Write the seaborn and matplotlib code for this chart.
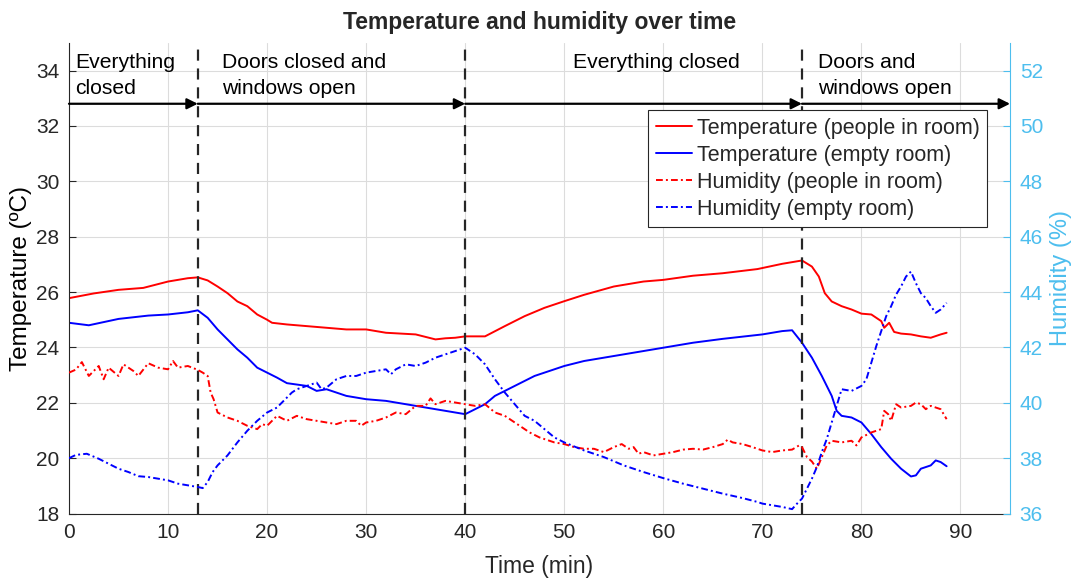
import matplotlib
matplotlib.use('Agg')
import matplotlib.pyplot as plt
import seaborn as sns
import pandas as pd

# 数据
t_temp_people = [0, 2.5, 5, 7.5, 10, 12, 13, 14, 15, 16, 17, 18, 19, 20, 20.5, 22, 25, 28, 30, 32,
                 35, 37, 38, 39, 40, 42, 44, 46, 48, 50, 52, 55, 58, 60, 63, 66, 69.5, 72, 74, 75,
                 75.7, 76.3, 77, 78, 79, 80, 81, 82, 82.3, 82.8, 83.3, 84, 85, 86, 87, 88, 88.6]
temp_people = [25.78, 25.95, 26.08, 26.15, 26.38, 26.50, 26.53, 26.42, 26.20, 25.96, 25.66, 25.49,
               25.19, 25.00, 24.89, 24.83, 24.74, 24.65, 24.65, 24.53, 24.47, 24.29, 24.33, 24.35,
               24.40, 24.40, 24.77, 25.13, 25.43, 25.67, 25.90, 26.20, 26.38, 26.44, 26.59, 26.68,
               26.83, 27.02, 27.14, 26.92, 26.56, 25.96, 25.66, 25.49, 25.37, 25.22, 25.19, 24.95,
               24.71, 24.89, 24.56, 24.50, 24.47, 24.40, 24.35, 24.47, 24.53]

t_temp_empty = [0, 2, 5, 8, 10, 12, 13, 14, 15, 16, 17, 18, 19, 20, 21, 22, 24, 25, 26, 27, 28, 30,
                32, 34, 36, 38, 40, 41, 42, 43, 44, 46, 47, 48, 50, 52, 55, 58, 60, 63, 66, 70, 72,
                73, 74, 75, 76, 77, 77.5, 78, 79, 80, 81, 82, 83, 84, 85, 85.5, 86, 87, 87.5, 88, 88.6]
temp_empty = [24.89, 24.80, 25.03, 25.15, 25.19, 25.27, 25.34, 25.07, 24.65, 24.29, 23.93, 23.63,
              23.27, 23.09, 22.91, 22.71, 22.61, 22.43, 22.49, 22.37, 22.25, 22.13, 22.07, 21.95,
              21.83, 21.71, 21.59, 21.77, 21.95, 22.25, 22.43, 22.79, 22.97, 23.09, 23.33, 23.51,
              23.69, 23.87, 23.99, 24.17, 24.31, 24.47, 24.59, 24.62, 24.17, 23.63, 22.97, 22.25,
              21.71, 21.53, 21.47, 21.29, 20.87, 20.40, 19.98, 19.62, 19.34, 19.38, 19.62, 19.74,
              19.92, 19.86, 19.71]

t_hum_people = [0, 0.7, 1.3, 2, 3, 3.5, 4, 5, 5.5, 6.5, 7, 8, 9, 10, 10.5, 11, 12, 13, 13.5, 14,
                14.3, 14.6, 15, 16, 17, 18, 19, 19.5, 20, 21, 22, 23, 24, 25, 26, 27, 28, 29, 29.5,
                30, 31, 32, 33, 34, 35, 36, 36.5, 37, 38, 39, 40, 41, 42, 43, 44, 45, 46, 46.5,
                47.5, 48, 49, 50, 51, 52, 53, 54, 55, 55.8, 56.5, 57, 57.5, 58, 59, 60, 61, 62,
                63, 64, 65, 66, 66.5, 67, 68, 69, 70, 71, 72, 73, 73.7, 74, 74.5, 75, 75.5, 76,
                76.5, 77, 78, 79, 79.5, 80, 81, 82, 82.3, 82.7, 83, 83.5, 84, 85, 85.5, 86, 86.5,
                87, 88, 88.6]
hum_people = [41.09, 41.20, 41.47, 40.97, 41.33, 40.85, 41.27, 40.97, 41.39, 41.15, 40.97, 41.43,
              41.27, 41.21, 41.51, 41.27, 41.33, 41.19, 41.09, 40.97, 40.37, 40.13, 39.65, 39.47,
              39.35, 39.17, 39.05, 39.23, 39.17, 39.53, 39.35, 39.53, 39.41, 39.35, 39.29, 39.23,
              39.35, 39.35, 39.17, 39.29, 39.35, 39.47, 39.65, 39.59, 39.89, 39.89, 40.16, 39.95,
              40.07, 40.01, 39.95, 39.89, 39.95, 39.65, 39.53, 39.29, 39.05, 38.93, 38.75, 38.69,
              38.57, 38.51, 38.40, 38.34, 38.34, 38.22, 38.40, 38.51, 38.34, 38.40, 38.16, 38.22,
              38.10, 38.16, 38.22, 38.31, 38.34, 38.31, 38.40, 38.51, 38.67, 38.57, 38.51, 38.40,
              38.28, 38.22, 38.28, 38.31, 38.46, 38.40, 38.04, 37.88, 37.62, 38.04, 38.46, 38.63,
              38.57, 38.63, 38.46, 38.75, 38.93, 39.05, 39.71, 39.59, 39.35, 39.95, 39.83, 39.89,
              40.01, 39.95, 39.77, 39.89, 39.77, 39.41]

t_hum_empty = [0, 0.7, 1.8, 3, 4, 5, 6, 7, 8, 9, 10, 11, 12, 13, 13.5, 14, 14.5, 15, 16, 17, 18, 19,
               20, 21, 22, 22.5, 23, 24, 25, 25.5, 26, 27, 28, 29, 30, 31, 32, 32.5, 33, 34, 35, 36,
               37, 38, 39, 40, 41, 42, 43, 44, 45, 46, 47, 48, 49, 50, 52, 54, 56, 58, 60, 62, 64,
               66, 68, 69.5, 70, 71, 72, 73, 73.5, 74, 74.5, 75, 75.5, 76, 76.5, 77, 77.5, 78, 79,
               80, 80.5, 81, 81.5, 82, 82.5, 83, 83.5, 84, 84.5, 85, 85.5, 86, 86.5, 87, 87.5, 88,
               88.6]
hum_empty = [38.00, 38.12, 38.16, 37.98, 37.80, 37.62, 37.50, 37.35, 37.32, 37.26, 37.20, 37.08,
             37.02, 36.96, 36.92, 37.14, 37.50, 37.74, 38.10, 38.57, 38.99, 39.35, 39.65, 39.83,
             40.19, 40.37, 40.49, 40.61, 40.73, 40.49, 40.55, 40.85, 40.97, 40.97, 41.09, 41.15,
             41.21, 41.03, 41.21, 41.39, 41.33, 41.45, 41.63, 41.75, 41.87, 41.99, 41.75, 41.39,
             40.85, 40.37, 39.95, 39.53, 39.35, 39.05, 38.75, 38.57, 38.28, 38.04, 37.74, 37.50,
             37.28, 37.08, 36.90, 36.72, 36.56, 36.42, 36.36, 36.30, 36.24, 36.16, 36.36, 36.54,
             36.90, 37.26, 37.68, 38.22, 38.69, 39.29, 39.89, 40.49, 40.43, 40.61, 40.85, 41.45,
             42.05, 42.59, 43.13, 43.49, 43.91, 44.20, 44.56, 44.74, 44.32, 43.96, 43.78, 43.49,
             43.25, 43.37, 43.61]

phase_bounds = [0, 13, 40, 74, 95]
phase_labels = ['Everything\nclosed', 'Doors closed and\nwindows open', 'Everything closed',
                'Doors and\nwindows open']
phase_label_x = [0.6, 15.4, 50.9, 75.6]

sns.set_style('white')
plt.rcParams['font.family'] = ['Liberation Sans', 'DejaVu Sans']

dark = '#262626'
cyan = '#4DBEEE'
dashdot = (0, (3.5, 1.6, 1, 1.6))

fig = plt.figure(figsize=(10.73, 5.79), dpi=100)
ax = fig.add_axes([0.0643, 0.113, 0.877, 0.813])
ax2 = ax.twinx()

sns.lineplot(x=t_temp_people, y=temp_people, ax=ax, color='red', lw=1.4,
             label='Temperature (people in room)', legend=False)
sns.lineplot(x=t_temp_empty, y=temp_empty, ax=ax, color='blue', lw=1.4,
             label='Temperature (empty room)', legend=False)
sns.lineplot(x=t_hum_people, y=hum_people, ax=ax2, color='red', lw=1.4, linestyle=dashdot,
             label='Humidity (people in room)', legend=False)
sns.lineplot(x=t_hum_empty, y=hum_empty, ax=ax2, color='blue', lw=1.4, linestyle=dashdot,
             label='Humidity (empty room)', legend=False)

# 阶段分隔线和箭头
for b in phase_bounds[1:-1]:
    ax.axvline(b, color=dark, ls=(0, (5, 3.5)), lw=1.6, zorder=3)
for a, b in zip(phase_bounds[:-1], phase_bounds[1:]):
    ax.annotate('', xy=(b, 32.8), xytext=(a, 32.8),
                arrowprops=dict(arrowstyle='-|>', color='black', lw=1.6,
                                mutation_scale=16, shrinkA=0, shrinkB=0))
for x, s in zip(phase_label_x, phase_labels):
    ax.text(x, 34.62, s, ha='left', va='top', fontsize=15.2, color='black', linespacing=1.45)

ax.set_xlim(0, 95)
ax.set_ylim(18, 35)
ax2.set_ylim(36, 53)
ax.set_xticks(range(0, 91, 10))
ax.set_yticks(range(18, 35, 2))
ax2.set_yticks(range(36, 53, 2))
ax.grid(True, color='#dcdcdc', lw=0.8)
ax.set_axisbelow(True)

for a in (ax, ax2):
    a.spines['top'].set_visible(False)
ax.spines['left'].set_color(dark)
ax.spines['bottom'].set_color(dark)
ax.spines['right'].set_visible(False)
ax2.spines['left'].set_visible(False)
ax2.spines['bottom'].set_visible(False)
ax2.spines['right'].set_color(cyan)

ax.tick_params(axis='both', direction='in', length=5, labelsize=15, colors=dark, pad=7)
ax2.tick_params(axis='y', direction='in', length=5, labelsize=15, colors=cyan, pad=7)

ax.set_xlabel('Time (min)', fontsize=16.5, color=dark, labelpad=9)
ax.set_ylabel('Temperature (ºC)', fontsize=17.5, color='black', labelpad=3)
ax2.set_ylabel('Humidity (%)', fontsize=17, color=cyan, labelpad=5)
ax.set_title('Temperature and humidity over time', fontsize=16.5, fontweight='bold', pad=10)

h1, l1 = ax.get_legend_handles_labels()
h2, l2 = ax2.get_legend_handles_labels()
leg = ax2.legend(h1 + h2, l1 + l2, loc='upper right', bbox_to_anchor=(0.9756, 0.857),
                 fontsize=15.5, handlelength=1.7, handletextpad=0.2, labelspacing=0.28,
                 borderpad=0.35, borderaxespad=0, fancybox=False, framealpha=1,
                 edgecolor=dark)
leg.get_frame().set_linewidth(0.8)

fig.savefig('out.png', dpi=100)
